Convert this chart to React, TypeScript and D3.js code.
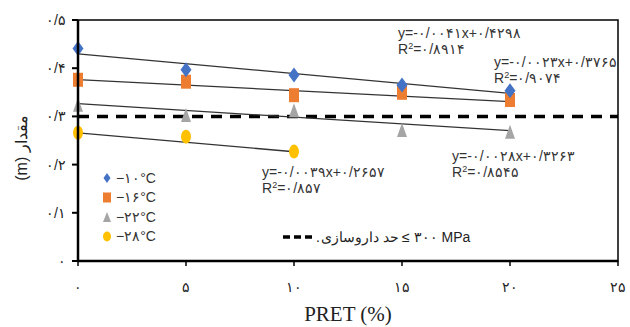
import React from "react";
import * as d3 from "d3";

const W = 630;
const H = 327;

// PRET (%) values
const pret = [0, 5, 10, 15, 20];

// measured values per temperature
const seriesNames = ["-10", "-16", "-22", "-28"];
const legendLabels = ["−۱۰°C", "−۱۶°C", "−۲۲°C", "−۲۸°C"];
const valsM10 = [0.441, 0.397, 0.386, 0.365, 0.353];
const valsM16 = [0.376, 0.372, 0.344, 0.349, 0.334];
const valsM22 = [0.324, 0.303, 0.313, 0.272, 0.268];
const valsM28 = [0.266, 0.258, 0.227];

// trend line coefficients (from the equations on the chart)
const slopes = [-0.0041, -0.0023, -0.0028, -0.0039];
const intercepts = [0.4298, 0.3765, 0.3263, 0.2657];
const r2s = [0.8914, 0.9074, 0.8545, 0.857];

const xTicks = [0, 5, 10, 15, 20, 25];
const yTicks = [0, 0.1, 0.2, 0.3, 0.4, 0.5];
const limitValue = 0.3;

const colors = ["#4472C4", "#ED7D31", "#A5A5A5", "#FFC000"];
const shapes = ["diamond", "square", "triangle", "circle"];

// where to put each equation (pixels)
const eqPos = [
  [398, 38],
  [494, 67],
  [452, 161],
  [262, 177],
];

const fa = (s: string) =>
  s.replace(/[0-9]/g, (d) => "۰۱۲۳۴۵۶۷۸۹"[+d]).replace(/\./g, "/");

const fmt = (v: number, n: number) => fa(v.toFixed(n).replace(/0+$/, "").replace(/\.$/, ""));

function Marker({ shape, x, y, w, h, color }) {
  if (shape === "diamond")
    return (
      <path
        d={`M${x},${y - h / 2}L${x + w / 2},${y}L${x},${y + h / 2}L${x - w / 2},${y}Z`}
        fill={color}
      />
    );
  if (shape === "square")
    return <rect x={x - w / 2} y={y - h / 2} width={w} height={h} fill={color} />;
  if (shape === "triangle")
    return (
      <path
        d={`M${x},${y - h / 2}L${x + w / 2},${y + h / 2}L${x - w / 2},${y + h / 2}Z`}
        fill={color}
      />
    );
  return <ellipse cx={x} cy={y} rx={w / 2} ry={h / 2} fill={color} />;
}

export default function App() {
  const left = 78;
  const right = 618;
  const top = 20;
  const bottom = 261;

  const x = d3.scaleLinear().domain([0, 25]).range([left, right]);
  const y = d3.scaleLinear().domain([0, 0.5]).range([bottom, top]);

  const allVals = [valsM10, valsM16, valsM22, valsM28];
  const line = d3
    .line<number>()
    .x((d) => x(d))
    .y((d) => y(d));

  const sans = "'Liberation Sans', Arial, sans-serif";
  const serif = "'Liberation Serif', 'Times New Roman', serif";

  return (
    <div style={{ position: "fixed", left: 0, top: 0 }}>
      <svg width={W} height={H} style={{ display: "block", background: "#fff" }}>
        {/* limit line */}
        <line
          x1={x(0)}
          x2={x(25)}
          y1={y(limitValue)}
          y2={y(limitValue)}
          stroke="#000"
          strokeWidth={3.5}
          strokeDasharray="11,8"
        />

        {/* trend lines */}
        {allVals.map((vals, i) => {
          const xs = pret.slice(0, vals.length);
          const x0 = xs[0];
          const x1 = xs[xs.length - 1];
          const pts: [number, number][] = [
            [x0, slopes[i] * x0 + intercepts[i]],
            [x1, slopes[i] * x1 + intercepts[i]],
          ];
          const l = d3
            .line<[number, number]>()
            .x((d) => x(d[0]))
            .y((d) => y(d[1]));
          return (
            <path key={"t" + i} d={l(pts) || ""} fill="none" stroke="#333" strokeWidth={1.3} />
          );
        })}

        {/* markers, last series first so blue sits on top */}
        {allVals
          .map((vals, i) => (
            <g key={"s" + seriesNames[i]}>
              {vals.map((v, j) => (
                <Marker
                  key={j}
                  shape={shapes[i]}
                  x={x(pret[j])}
                  y={y(v)}
                  w={i === 0 ? 11 : 10}
                  h={i === 0 ? 15 : 14}
                  color={colors[i]}
                />
              ))}
            </g>
          ))
          .reverse()}

        {/* frame */}
        <rect
          x={left}
          y={top}
          width={right - left}
          height={bottom - top}
          fill="none"
          stroke="#000"
          strokeWidth={1.5}
        />
        <line x1={left} x2={left} y1={top} y2={bottom} stroke="#000" strokeWidth={2.5} />
        <line x1={left} x2={right} y1={bottom} y2={bottom} stroke="#000" strokeWidth={2.5} />

        {/* y axis */}
        {yTicks.map((t) => (
          <g key={"y" + t}>
            <line x1={left - 6} x2={left} y1={y(t)} y2={y(t)} stroke="#000" strokeWidth={2} />
            <text
              x={left - 12}
              y={y(t)}
              dy="0.35em"
              textAnchor="end"
              fontSize={14}
              fontFamily={sans}
              fill="#222"
            >
              {t === 0 ? "۰" : fmt(t, 1)}
            </text>
          </g>
        ))}

        {/* x axis */}
        {xTicks.map((t) => (
          <g key={"x" + t}>
            <line x1={x(t)} x2={x(t)} y1={bottom} y2={bottom + 5} stroke="#000" strokeWidth={1.5} />
            <text
              x={x(t)}
              y={292}
              textAnchor="middle"
              fontSize={14}
              fontFamily={serif}
              fill="#222"
            >
              {fa(String(t))}
            </text>
          </g>
        ))}

        <text
          x={(left + right) / 2}
          y={321}
          textAnchor="middle"
          fontSize={21}
          fontFamily={serif}
          fill="#222"
        >
          PRET (%)
        </text>

        <text
          transform="translate(27,148) rotate(-90)"
          textAnchor="middle"
          fontSize={16}
          fontFamily={sans}
          fill="#222"
        >
          (m) مقدار
        </text>

        {/* equations */}
        {slopes.map((s, i) => (
          <g key={"e" + i} fontFamily={sans} fontSize={14} fill="#333">
            <text x={eqPos[i][0]} y={eqPos[i][1]}>
              {"y=-" + fa(Math.abs(s).toFixed(4)) + "x+" + fa(intercepts[i].toFixed(4))}
            </text>
            <text x={eqPos[i][0]} y={eqPos[i][1] + 16}>
              R<tspan dy={-5} fontSize={9}>2</tspan>
              <tspan dy={5}>{"=" + fmt(r2s[i], 4)}</tspan>
            </text>
          </g>
        ))}

        {/* legend */}
        {legendLabels.map((lab, i) => {
          const ly = 178 + i * 19.5;
          return (
            <g key={"l" + i}>
              <Marker
                shape={shapes[i]}
                x={107}
                y={ly}
                w={i === 0 ? 7 : 8}
                h={i === 0 ? 10 : 10}
                color={colors[i]}
              />
              <text
                x={116}
                y={ly}
                dy="0.35em"
                fontSize={14}
                fontFamily={sans}
                fill="#333"
              >
                {lab}
              </text>
            </g>
          );
        })}

        {/* limit legend */}
        <line x1={283} x2={313} y1={237} y2={237} stroke="#000" strokeWidth={3.5} strokeDasharray="7,4" />
        <text x={316} y={237} dy="0.35em" fontSize={14} fontFamily={sans} fill="#222">
          .
        </text>
        <text x={399} y={237} dy="0.35em" textAnchor="end" fontSize={14} fontFamily={sans} fill="#222">
          حد داروسازی
        </text>
        <text x={402} y={237} dy="0.35em" fontSize={14} fontFamily={sans} fill="#222">
          {"≤ " + fa("300") + " MPa"}
        </text>
      </svg>
    </div>
  );
}
